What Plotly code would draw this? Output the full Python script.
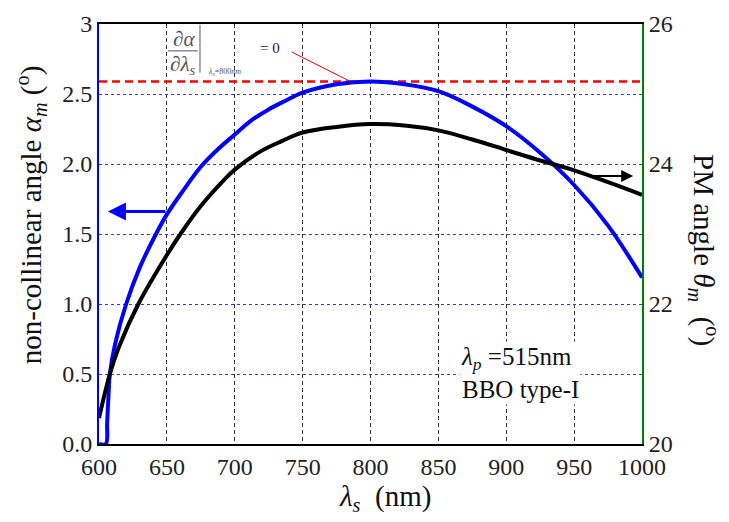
import plotly.graph_objects as go

# ---- data ----
lam_alpha = [600, 605, 606, 607, 608, 612, 620, 630, 642, 650, 662, 675, 687, 700, 712, 725,
             737, 750, 775, 800, 825, 850, 875, 900, 925, 950, 975, 1000]
alpha_m = [0.0, 0.0, 0.15, 0.35, 0.5, 0.72, 1.0, 1.26, 1.5, 1.64, 1.81, 1.98, 2.1, 2.21, 2.31,
           2.39, 2.45, 2.51, 2.57, 2.59, 2.57, 2.52, 2.41, 2.27, 2.08, 1.85, 1.56, 1.19]

lam_theta = [600, 604, 608, 615, 629, 650, 660, 675, 692, 700, 719, 735, 750, 775, 800, 825,
             850, 875, 900, 925, 950, 975, 1000]
theta_m = [20.37, 20.7, 21.0, 21.4, 22.0, 22.7, 23.0, 23.4, 23.77, 23.92, 24.18, 24.33, 24.45,
           24.53, 24.57, 24.55, 24.48, 24.35, 24.2, 24.05, 23.91, 23.74, 23.56]

deriv_zero_level = 2.59
x_ticks = [600, 650, 700, 750, 800, 850, 900, 950, 1000]
y_ticks = [0, 0.5, 1.0, 1.5, 2.0, 2.5, 3]
y_ticklabels = ["0.0", "0.5", "1.0", "1.5", "2.0", "2.5", "3"]
y2_ticks = [20, 22, 24, 26]

FONT = "Liberation Serif"

fig = go.Figure()
fig.add_trace(go.Scatter(x=[600, 1000], y=[deriv_zero_level] * 2, mode="lines",
                         line=dict(color="red", width=2.5, dash="8px,5px"),
                         showlegend=False, hoverinfo="skip"))
fig.add_trace(go.Scatter(x=lam_alpha, y=alpha_m, mode="lines",
                         line=dict(color="#0000ff", width=4, shape="spline", smoothing=1.0),
                         showlegend=False))
fig.add_trace(go.Scatter(x=lam_theta, y=theta_m, mode="lines", yaxis="y2",
                         line=dict(color="black", width=4, shape="spline", smoothing=1.0),
                         showlegend=False))

fig.update_layout(
    width=729, height=522,
    margin=dict(l=99, r=87, t=24, b=78),
    paper_bgcolor="white", plot_bgcolor="white",
    font=dict(family=FONT, size=24, color="#222"),
    xaxis=dict(range=[600, 1000], tickvals=x_ticks, showline=True, linecolor="black",
               linewidth=2, mirror=True, showgrid=True, gridcolor="#333",
               griddash="4px,3px", gridwidth=1, ticks="", zeroline=False,
               tickfont=dict(size=24)),
    yaxis=dict(range=[0, 3], tickvals=y_ticks, ticktext=y_ticklabels, showline=True,
               linecolor="#0000ff", linewidth=2, showgrid=True, gridcolor="#3333ff",
               griddash="3px,3px", gridwidth=1, ticks="", zeroline=False,
               tickfont=dict(size=24)),
    yaxis2=dict(range=[20, 26], tickvals=y2_ticks, overlaying="y", side="right",
                showline=True, linecolor="green", linewidth=2, showgrid=False,
                ticks="", zeroline=False, tickfont=dict(size=24)),
)


def A(text, x, y, size, color="#111", angle=0, **kw):
    d = dict(text=text, xref="paper", yref="paper", x=x, y=y, textangle=angle,
             xanchor="center", yanchor="middle", showarrow=False,
             font=dict(size=size, color=color))
    d.update(kw)
    return d


ann = []
# axis titles
ann.append(A("non-collinear angle <i>α<sub>m</sub></i> (<sup>o</sup>)", -0.125, 0.545, 29,
             angle=-90))
ann.append(A("PM angle <i>θ<sub>m</sub></i>  (<sup>o</sup>)", 1.114, 0.462, 29, angle=90))
ann.append(A("<i>λ<sub>s</sub></i>  (nm)", 0.527, -0.128, 29))
# text box
ann.append(A("<i>λ<sub>p</sub></i> =515nm<br>BBO type-I", 0.663, 0.17, 25,
             xanchor="left", align="left", bgcolor="white"))
# derivative expression
ann.append(A("<i>∂α</i>", 0.157, 0.965, 21, color="#555"))
ann.append(A("<i>∂λ<sub>s</sub></i>", 0.153, 0.903, 21, color="#555"))
ann.append(A("<i>λ<sub>s</sub></i>=800<i>nm</i>", 0.232, 0.886, 8, color="#555"))
ann.append(A("= 0", 0.315, 0.942, 15, color="#222"))
# arrows
ann.append(dict(x=606.6, y=1.66, ax=650, ay=1.66, xref="x", yref="y", axref="x", ayref="y",
                text="", showarrow=True, arrowhead=2, arrowsize=1.2, arrowwidth=3,
                arrowcolor="#0000ff"))
ann.append(dict(x=993.5, y=23.83, ax=959, ay=23.83, xref="x", yref="y2", axref="x",
                ayref="y2", text="", showarrow=True, arrowhead=2, arrowsize=1.2,
                arrowwidth=2, arrowcolor="black"))
fig.update_layout(annotations=ann)

fig.update_layout(shapes=[
    dict(type="line", xref="paper", yref="paper", x0=0.127, x1=0.182, y0=0.936, y1=0.936,
         line=dict(color="#555", width=1)),
    dict(type="line", xref="paper", yref="paper", x0=0.186, x1=0.186, y0=0.998, y1=0.884,
         line=dict(color="#555", width=1)),
    dict(type="line", xref="x", yref="y", x0=742, y0=2.80, x1=785, y1=2.59,
         line=dict(color="red", width=1)),
])

fig.write_html("out.html")
